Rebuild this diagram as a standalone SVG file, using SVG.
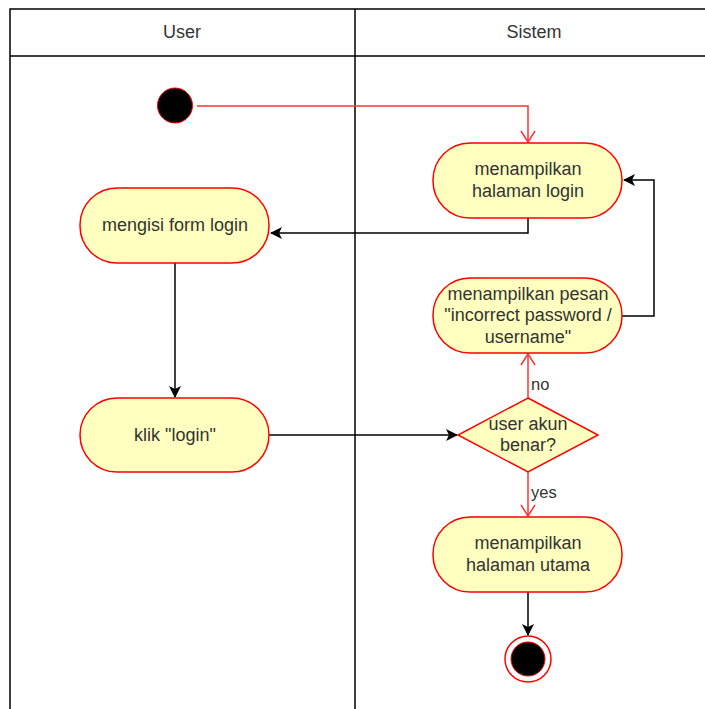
<svg xmlns="http://www.w3.org/2000/svg" width="705" height="709" viewBox="0 0 705 709">
<style>
text{font-family:"Liberation Sans",Arial,sans-serif;font-size:18px;fill:#333;text-anchor:middle}
.lbl{font-size:16.5px;text-anchor:start}
.act{fill:#FFFFC0;stroke:#FF0000;stroke-width:1.5}
.lane{fill:none;stroke:#000;stroke-width:1.5}
.red{fill:none;stroke:#FF3333;stroke-width:1.5}
.blk{fill:none;stroke:#000;stroke-width:1.5}
</style>
<defs>
<marker id="open" markerWidth="16" markerHeight="16" refX="12" refY="8" orient="auto" markerUnits="userSpaceOnUse">
<path d="M1,1 L12,8 L1,15" fill="none" stroke="#FF3333" stroke-width="1.5"/>
</marker>
<marker id="solid" markerWidth="14" markerHeight="14" refX="11" refY="7" orient="auto" markerUnits="userSpaceOnUse">
<path d="M0,1 L12,7 L0,13 L3,7 Z" fill="#000"/>
</marker>
</defs>
<g id="swimlanes">
<rect x="10" y="9" width="720" height="720" fill="#fff" class="lane"/>
<line x1="10" y1="56" x2="730" y2="56" class="lane"/>
<line x1="355" y1="9" x2="355" y2="730" class="lane"/>
<text x="182" y="38">User</text>
<text x="534" y="38">Sistem</text>
</g>
<g id="connectors">
<path d="M197,106 H528 V142" class="red" marker-end="url(#open)"/>
<path d="M528,218 V233 H271" class="blk" marker-end="url(#solid)"/>
<path d="M175,263 V397" class="blk" marker-end="url(#solid)"/>
<path d="M269,435 H457" class="blk" marker-end="url(#solid)"/>
<path d="M528,398 V354" class="red" marker-end="url(#open)"/>
<path d="M622,316 H654 V180 H624" class="blk" marker-end="url(#solid)"/>
<path d="M528,472 V516" class="red" marker-end="url(#open)"/>
<path d="M528,592 V635" class="blk" marker-end="url(#solid)"/>
<text x="531" y="390" class="lbl">no</text>
<text x="531" y="498" class="lbl">yes</text>
</g>
<g id="start">
<circle cx="175" cy="105.5" r="17.5" fill="#000" stroke="#FF0000" stroke-width="1"/>
</g>
<g id="tampil-login">
<rect x="433" y="143" width="189" height="75" rx="37" class="act"/>
<text x="528" y="175">menampilkan</text>
<text x="528" y="197">halaman login</text>
</g>
<g id="isi-form">
<rect x="80" y="188" width="189" height="75" rx="37" class="act"/>
<text x="175" y="231">mengisi form login</text>
</g>
<g id="klik-login">
<rect x="80" y="398" width="189" height="74" rx="37" class="act"/>
<text x="175" y="441">klik "login"</text>
</g>
<g id="pesan">
<rect x="433" y="278" width="189" height="75" rx="37" class="act"/>
<text x="528" y="300">menampilkan pesan</text>
<text x="528" y="321">"incorrect password /</text>
<text x="528" y="343">username"</text>
</g>
<g id="decision">
<path d="M528,398 L598,435 L528,472 L458,435 Z" class="act"/>
<text x="528" y="430">user akun</text>
<text x="528" y="451">benar?</text>
</g>
<g id="tampil-utama">
<rect x="433" y="517" width="189" height="75" rx="37" class="act"/>
<text x="528" y="549">menampilkan</text>
<text x="528" y="571">halaman utama</text>
</g>
<g id="end">
<circle cx="528" cy="659" r="23" fill="#fff" stroke="#FF0000" stroke-width="1.5"/>
<circle cx="528" cy="659" r="17" fill="#000" stroke="#FF0000" stroke-width="1"/>
</g>
</svg>
